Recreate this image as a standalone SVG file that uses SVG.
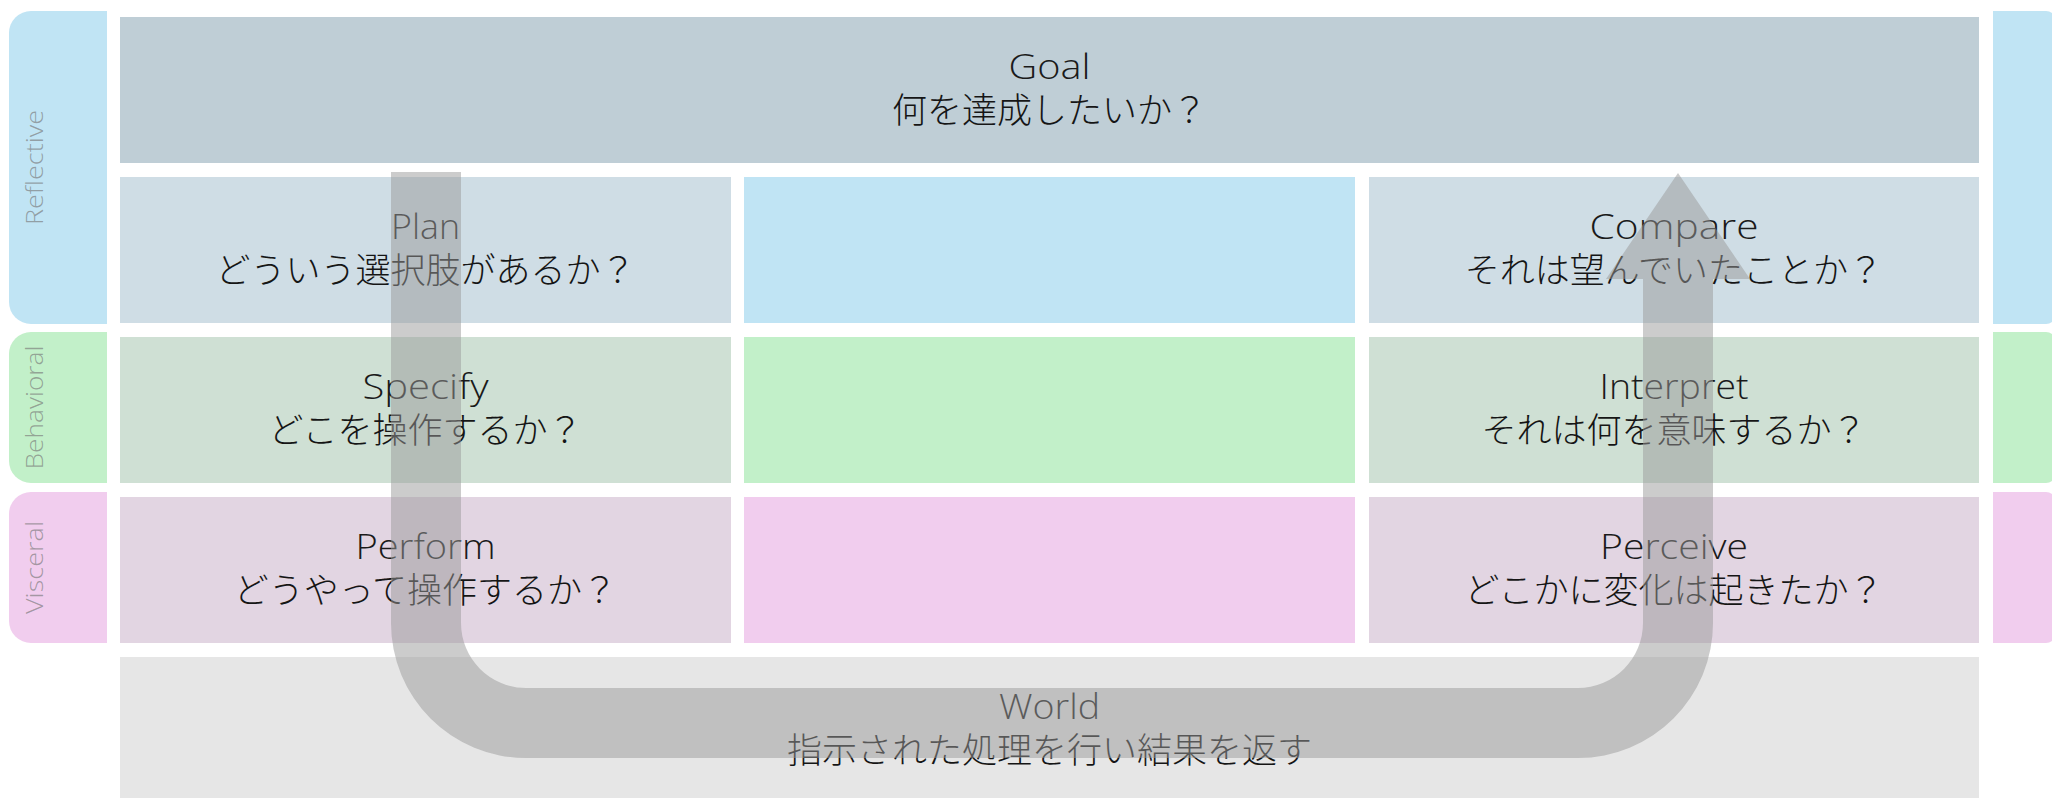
<svg xmlns="http://www.w3.org/2000/svg" width="2052" height="798" viewBox="0 0 2052 798">
<style>
.t{text-anchor:middle}
.lat{font-family:"Open Sans","Noto Sans CJK JP",sans-serif;font-size:35px;font-weight:300;fill:#1a1a1a}
.jp{font-family:"Noto Sans CJK JP",sans-serif;font-size:35px;font-weight:300;fill:#151515}
.bl{font-family:"Open Sans","Noto Sans",sans-serif;font-size:23px;font-weight:300;fill:#777;fill-opacity:.65;text-anchor:middle}
.refl{fill:#c0e4f4}.beh{fill:#c2f0c9}.visc{fill:#f1cdee}
.goal{fill:#bfced6}.r1{fill:#cfdde5}.r2{fill:#cfe0d4}.r3{fill:#e2d5e2}.world{fill:#e6e6e6}
.arrow{fill:#999;fill-opacity:.5}
</style>
<rect width="2052" height="798" fill="#ffffff"/>

<g id="band-reflective">
<path class="refl" d="M107 11 V324 H31 A22 22 0 0 1 9 302 V33 A22 22 0 0 1 31 11 Z"/>
<text class="bl" transform="translate(43 167.5) rotate(-90)" textLength="115" lengthAdjust="spacingAndGlyphs">Reflective</text>
</g>
<g id="band-behavioral">
<path class="beh" d="M107 332 V483 H31 A22 22 0 0 1 9 461 V354 A22 22 0 0 1 31 332 Z"/>
<text class="bl" transform="translate(43 407.5) rotate(-90)" textLength="124" lengthAdjust="spacingAndGlyphs">Behavioral</text>
</g>
<g id="band-visceral">
<path class="visc" d="M107 492 V643 H31 A22 22 0 0 1 9 621 V514 A22 22 0 0 1 31 492 Z"/>
<text class="bl" transform="translate(43 567.5) rotate(-90)" textLength="93" lengthAdjust="spacingAndGlyphs">Visceral</text>
</g>
<g id="band-right-reflective"><path class="refl" d="M1993 11 H2046 A10 10 0 0 1 2056 21 V314 A10 10 0 0 1 2046 324 H1993 Z"/></g>
<g id="band-right-behavioral"><path class="beh" d="M1993 332 H2046 A10 10 0 0 1 2056 342 V473 A10 10 0 0 1 2046 483 H1993 Z"/></g>
<g id="band-right-visceral"><path class="visc" d="M1993 492 H2046 A10 10 0 0 1 2056 502 V633 A10 10 0 0 1 2046 643 H1993 Z"/></g>

<g id="goal">
<rect class="goal" x="120" y="17" width="1859" height="146"/>
<text class="t"><tspan class="lat" x="1049.5" y="79" textLength="82" lengthAdjust="spacingAndGlyphs">Goal</tspan><tspan class="jp" x="1049.5" y="123">何を達成したいか？</tspan></text>
</g>

<g id="plan">
<rect class="r1" x="120" y="177" width="611" height="146"/>
<text class="t"><tspan class="lat" x="425.5" y="239" textLength="69" lengthAdjust="spacingAndGlyphs">Plan</tspan><tspan class="jp" x="425.5" y="283">どういう選択肢があるか？</tspan></text>
</g>
<g id="reflective-mid"><rect class="refl" x="744" y="177" width="611" height="146"/></g>
<g id="compare">
<rect class="r1" x="1369" y="177" width="610" height="146"/>
<text class="t"><tspan class="lat" x="1674" y="239" textLength="169" lengthAdjust="spacingAndGlyphs">Compare</tspan><tspan class="jp" x="1674" y="283">それは望んでいたことか？</tspan></text>
</g>

<g id="specify">
<rect class="r2" x="120" y="337" width="611" height="146"/>
<text class="t"><tspan class="lat" x="425.5" y="399" textLength="126" lengthAdjust="spacingAndGlyphs">Specify</tspan><tspan class="jp" x="425.5" y="443">どこを操作するか？</tspan></text>
</g>
<g id="behavioral-mid"><rect class="beh" x="744" y="337" width="611" height="146"/></g>
<g id="interpret">
<rect class="r2" x="1369" y="337" width="610" height="146"/>
<text class="t"><tspan class="lat" x="1674" y="399" textLength="149" lengthAdjust="spacingAndGlyphs">Interpret</tspan><tspan class="jp" x="1674" y="443">それは何を意味するか？</tspan></text>
</g>

<g id="perform">
<rect class="r3" x="120" y="497" width="611" height="146"/>
<text class="t"><tspan class="lat" x="425.5" y="559" textLength="140" lengthAdjust="spacingAndGlyphs">Perform</tspan><tspan class="jp" x="425.5" y="603">どうやって操作するか？</tspan></text>
</g>
<g id="visceral-mid"><rect class="visc" x="744" y="497" width="611" height="146"/></g>
<g id="perceive">
<rect class="r3" x="1369" y="497" width="610" height="146"/>
<text class="t"><tspan class="lat" x="1674" y="559" textLength="148" lengthAdjust="spacingAndGlyphs">Perceive</tspan><tspan class="jp" x="1674" y="603">どこかに変化は起きたか？</tspan></text>
</g>

<g id="world">
<rect class="world" x="120" y="657" width="1859" height="150"/>
<text class="t"><tspan class="lat" x="1049.5" y="719" textLength="101" lengthAdjust="spacingAndGlyphs">World</tspan><tspan class="jp" x="1049.5" y="763">指示された処理を行い結果を返す</tspan></text>
</g>

<g id="connectors">
<path class="arrow" d="M391 172 H461 V623 A65 65 0 0 0 526 688 H1578 A65 65 0 0 0 1643 623 V279 H1606 L1678 173 L1750 279 H1713 V623 A135 135 0 0 1 1578 758 H526 A135 135 0 0 1 391 623 Z"/>
</g>
</svg>
